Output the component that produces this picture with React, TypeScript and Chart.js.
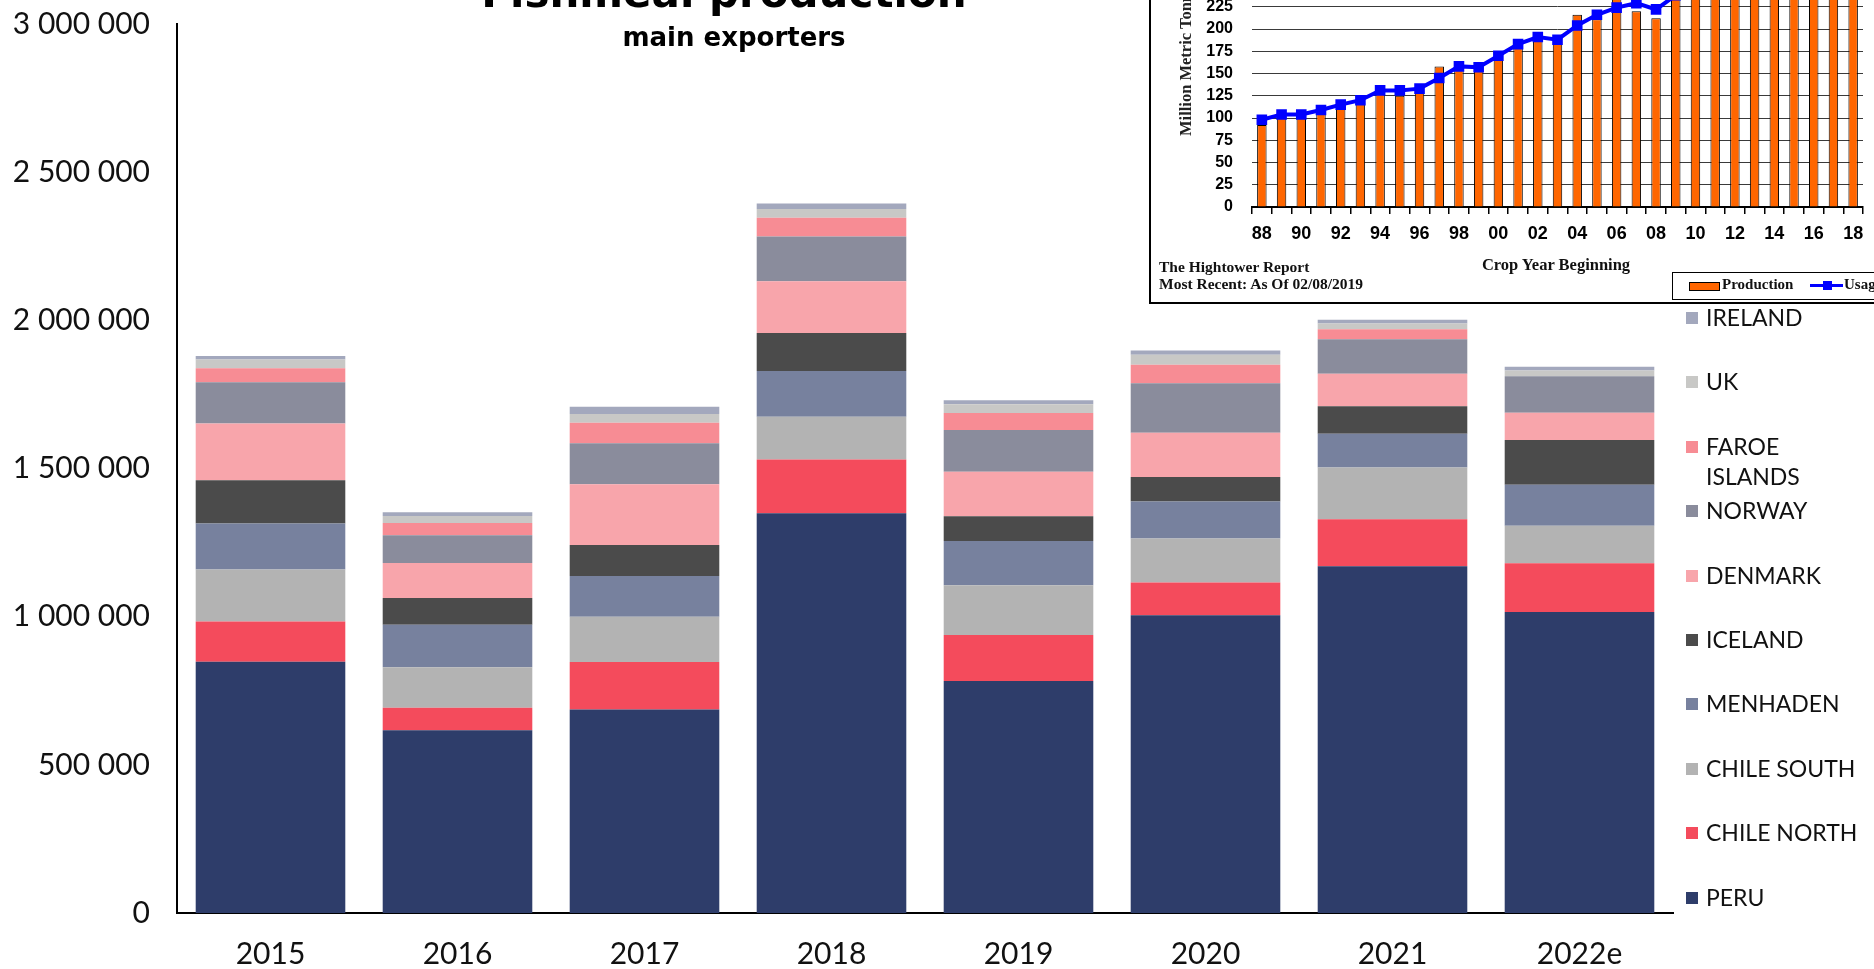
import React, { useEffect, useRef } from "react";
import { Chart, registerables } from "chart.js";
Chart.register(...registerables);

// ---------- main chart data ----------
const years = ["2015", "2016", "2017", "2018", "2019", "2020", "2021", "2022e"];
const peru = [848000, 617000, 687000, 1349000, 783000, 1005000, 1170000, 1016000];
const chileNorth = [136000, 76000, 160000, 181000, 155000, 110000, 159000, 164000];
const chileSouth = [175000, 136000, 153000, 145000, 168000, 149000, 174000, 127000];
const menhaden = [155000, 144000, 137000, 154000, 149000, 125000, 114000, 138000];
const iceland = [146000, 90000, 105000, 128000, 84000, 82000, 93000, 151000];
const denmark = [192000, 118000, 205000, 175000, 150000, 150000, 110000, 92000];
const norway = [139000, 94000, 138000, 151000, 141000, 167000, 116000, 123000];
const faroeIslands = [47000, 41000, 69000, 63000, 57000, 62000, 34000, 0];
const uk = [30000, 24000, 30000, 30000, 30000, 34000, 19000, 20000];
const ireland = [12000, 12000, 24000, 18000, 13000, 14000, 13000, 12000];

const seriesNames = ["PERU", "CHILE NORTH", "CHILE SOUTH", "MENHADEN", "ICELAND", "DENMARK", "NORWAY", "FAROE ISLANDS", "UK", "IRELAND"];
const seriesData = [peru, chileNorth, chileSouth, menhaden, iceland, denmark, norway, faroeIslands, uk, ireland];
const seriesColors = ["#2E3D6A", "#F44B5C", "#B3B3B3", "#77819E", "#4B4B4B", "#F8A5AB", "#8A8C9C", "#F78C94", "#C8C8C6", "#A3A8BD"];

const yMax = 3000000;
const yStep = 500000;

// ---------- inset chart data ----------
const insetYears = ["88", "89", "90", "91", "92", "93", "94", "95", "96", "97", "98", "99", "00", "01", "02", "03", "04", "05", "06", "07", "08", "09", "10", "11", "12", "13", "14", "15", "16", "17", "18"];
const insetProduction = [92, 101, 103, 105, 112, 117, 128, 125, 131, 158, 155, 155, 166, 180, 196, 186, 216, 211, 237, 220, 212, 260, 264, 240, 268, 283, 320, 316, 349, 342, 369];
const insetUsage = [98, 104, 104, 109, 115, 120, 131, 131, 133, 145, 158, 157, 170, 183, 191, 188, 204, 216, 224, 229, 222, 238, 252, 258, 262, 278, 300, 314, 330, 338, 350];

const fmt = (v: number) => String(v).replace(/\B(?=(\d{3})+(?!\d))/g, " ");

function MainChart() {
  const ref = useRef<HTMLCanvasElement | null>(null);
  useEffect(() => {
    if (!ref.current) return;
    const chart = new Chart(ref.current, {
      type: "bar",
      data: {
        labels: years,
        datasets: seriesNames.map((n, i) => ({
          label: n,
          data: seriesData[i],
          backgroundColor: seriesColors[i],
          borderWidth: 0,
          barPercentage: 0.8,
          categoryPercentage: 1,
        })),
      },
      options: {
        responsive: false,
        animation: false,
        devicePixelRatio: 1,
        layout: { autoPadding: false, padding: { top: 24, right: 201, left: 0, bottom: 0 } },
        plugins: { legend: { display: false }, tooltip: { enabled: false }, title: { display: false } },
        scales: {
          x: {
            stacked: true,
            grid: { display: false, drawTicks: false },
            border: { display: true, color: "#000", width: 2 },
            ticks: { color: "#111", font: { family: "Lato", size: 30 }, padding: 23, maxRotation: 0 },
            afterFit: (s: any) => { s.height = 56; s.paddingLeft = 0; s.paddingRight = 0; },
          },
          y: {
            stacked: true,
            min: 0,
            max: yMax,
            grid: { display: false, drawTicks: false },
            border: { display: true, color: "#000", width: 2 },
            ticks: { stepSize: yStep, color: "#111", font: { family: "Lato", size: 30 }, padding: 27, callback: (v: any) => fmt(Number(v)) },
            afterFit: (s: any) => { s.width = 177; s.paddingTop = 0; s.paddingBottom = 0; },
          },
        },
      },
    });
    return () => chart.destroy();
  }, []);
  return <canvas ref={ref} width={1874} height={969} style={{ position: "absolute", left: 0, top: 0, width: 1874, height: 969 }} />;
}

const insetFrame = {
  id: "insetFrame",
  beforeDraw(chart: any) {
    const c = chart.ctx;
    c.save();
    c.fillStyle = "#fff";
    c.fillRect(0, 0, chart.width, chart.height);
    c.restore();
  },
  afterDraw(chart: any) {
    const c = chart.ctx;
    c.save();
    c.strokeStyle = "#000";
    c.lineWidth = 2;
    c.strokeRect(1, 1, chart.width - 2, chart.height - 2);
    c.restore();
  },
};

function InsetChart() {
  const ref = useRef<HTMLCanvasElement | null>(null);
  useEffect(() => {
    if (!ref.current) return;
    const fam = "'Liberation Sans', Arial, sans-serif";
    const chart = new Chart(ref.current, {
      type: "bar",
      data: {
        labels: insetYears,
        datasets: [
          {
            type: "line" as const,
            label: "Usage",
            data: insetUsage,
            borderColor: "#0000FF",
            backgroundColor: "#0000FF",
            borderWidth: 4,
            pointStyle: "rect",
            pointRadius: 7.5,
            pointBackgroundColor: "#0000FF",
            pointBorderWidth: 0,
            tension: 0,
            order: 0,
          },
          {
            type: "bar" as const,
            label: "Production",
            data: insetProduction,
            backgroundColor: "#FF6600",
            borderColor: "#000",
            borderWidth: 1,
            barPercentage: 0.48,
            categoryPercentage: 1,
            order: 1,
          },
        ],
      },
      options: {
        responsive: false,
        animation: false,
        devicePixelRatio: 1,
        layout: { padding: { top: 51, right: 26, left: 0, bottom: 0 } },
        plugins: { legend: { display: false }, tooltip: { enabled: false } },
        scales: {
          x: {
            grid: { display: true, drawOnChartArea: false, drawTicks: true, tickLength: 7, color: "#000", lineWidth: 1.5, offset: true },
            border: { display: true, color: "#000", width: 2 },
            ticks: {
              color: "#000",
              font: { family: fam, size: 18, weight: "bold" },
              padding: 9,
              autoSkip: false,
              maxRotation: 0,
              callback: (_v: any, i: number) => (i % 2 === 0 ? insetYears[i] : ""),
            },
            afterFit: (s: any) => { s.height = 97; },
          },
          y: {
            min: 0,
            max: 400,
            grid: { color: "#3a3a3a", lineWidth: 1, drawTicks: false },
            border: { display: false },
            ticks: { stepSize: 25, autoSkip: false, color: "#000", font: { family: fam, size: 16, weight: "bold" }, padding: 19 },
            afterFit: (s: any) => { s.width = 103; },
          },
        },
      },
      plugins: [insetFrame],
    });
    return () => chart.destroy();
  }, []);
  return <canvas ref={ref} width={740} height={504} style={{ position: "absolute", left: 1149, top: -200, width: 740, height: 504 }} />;
}

const serif = "'Liberation Serif', 'DejaVu Serif', serif";

export default function App() {
  const legendOrder = [9, 8, 7, 6, 5, 4, 3, 2, 1, 0];
  return (
    <div style={{ position: "fixed", left: 0, top: 0, width: 1874, height: 969, overflow: "hidden", background: "#fff" }}>
      <MainChart />
      {/* title */}
      <div style={{ position: "absolute", left: 0, width: 1448, top: -28, textAlign: "center", font: "bold 42px 'DejaVu Sans', sans-serif", lineHeight: "42px", color: "#000", whiteSpace: "nowrap" }}>
        Fishmeal production
      </div>
      <div style={{ position: "absolute", left: 0, width: 1468, top: 24, textAlign: "center", font: "bold 26px 'DejaVu Sans', sans-serif", lineHeight: "26px", color: "#000", whiteSpace: "nowrap" }}>
        main exporters
      </div>
      {/* legend */}
      {legendOrder.map((si, k) => {
        const cy = 318 + k * 64.4;
        const parts = seriesNames[si] === "FAROE ISLANDS" ? ["FAROE", "ISLANDS"] : [seriesNames[si]];
        return (
          <div key={si}>
            <div style={{ position: "absolute", left: 1686, top: cy - 6, width: 12, height: 12, background: seriesColors[si] }} />
            {parts.map((p, j) => (
              <div key={j} style={{ position: "absolute", left: 1706, top: cy - 12 + j * 30, font: "23px Lato, sans-serif", lineHeight: "23px", color: "#111", whiteSpace: "nowrap" }}>
                {p}
              </div>
            ))}
          </div>
        );
      })}
      {/* inset */}
      <InsetChart />
      <div style={{ position: "absolute", left: 1177, top: 136, transform: "rotate(-90deg)", transformOrigin: "0 0", font: `bold 16.5px ${serif}`, lineHeight: "18px", color: "#222", whiteSpace: "nowrap" }}>
        Million Metric Tonnes
      </div>
      <div style={{ position: "absolute", left: 1159, top: 258, font: `bold 15.5px ${serif}`, lineHeight: "17px", color: "#111", whiteSpace: "nowrap" }}>
        The Hightower Report
        <br />
        Most Recent: As Of 02/08/2019
      </div>
      <div style={{ position: "absolute", left: 1456, width: 200, top: 256, textAlign: "center", font: `bold 16.5px ${serif}`, lineHeight: "18px", color: "#111", whiteSpace: "nowrap" }}>
        Crop Year Beginning
      </div>
      <div style={{ position: "absolute", left: 1672, top: 272, width: 240, height: 26, border: "1px solid #000", background: "#fff" }} />
      <div style={{ position: "absolute", left: 1689, top: 282, width: 29, height: 7, background: "#FF6600", border: "1px solid #000" }} />
      <div style={{ position: "absolute", left: 1722, top: 276, font: `bold 15px ${serif}`, lineHeight: "17px", color: "#111", whiteSpace: "nowrap" }}>Production</div>
      <div style={{ position: "absolute", left: 1810, top: 284, width: 33, height: 3, background: "#0000FF" }} />
      <div style={{ position: "absolute", left: 1823, top: 281, width: 9, height: 9, background: "#0000FF" }} />
      <div style={{ position: "absolute", left: 1844, top: 276, font: `bold 15px ${serif}`, lineHeight: "17px", color: "#111", whiteSpace: "nowrap" }}>Usage</div>
    </div>
  );
}
